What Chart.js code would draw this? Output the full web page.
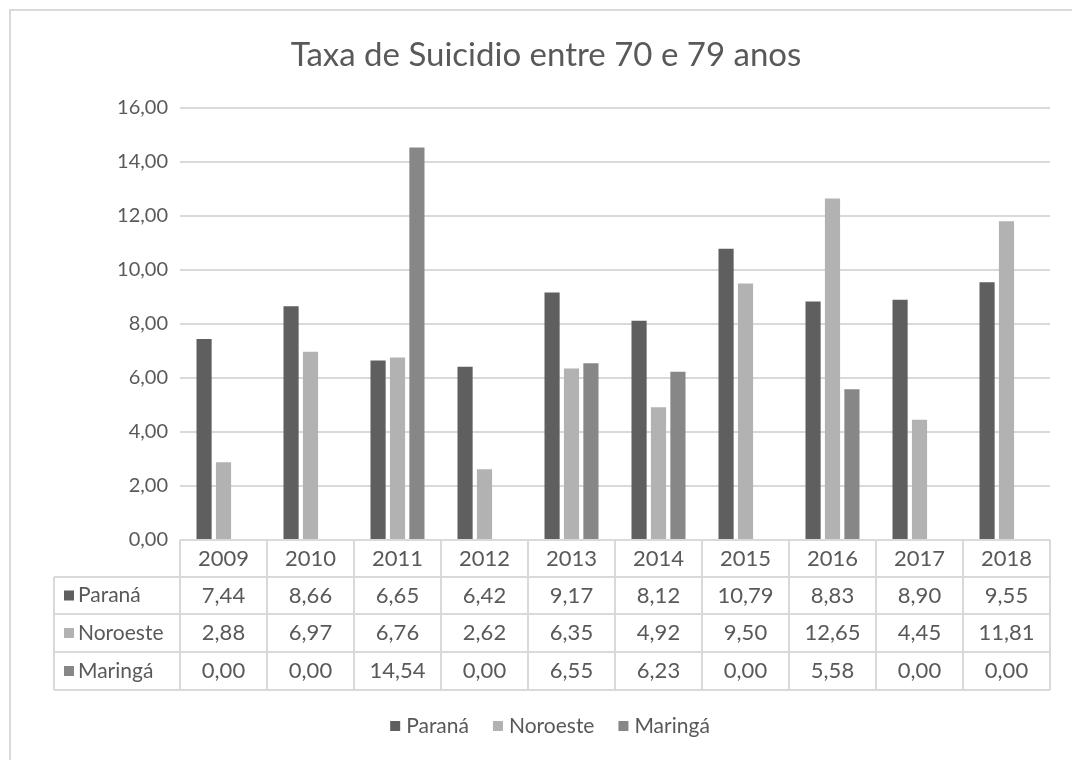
<!DOCTYPE html>
<html>
<head>
<meta charset="utf-8">
<script src="https://cdn.jsdelivr.net/npm/chart.js@4/dist/chart.umd.min.js"></script>
<style>
  html, body { margin: 0; padding: 0; background: #fff; }
  #wrap { width: 1072px; height: 760px; }
</style>
</head>
<body>
<div id="wrap"><canvas id="chart" width="1072" height="760"></canvas></div>
<script>
const years = ['2009', '2010', '2011', '2012', '2013', '2014', '2015', '2016', '2017', '2018'];
const parana = [7.44, 8.66, 6.65, 6.42, 9.17, 8.12, 10.79, 8.83, 8.90, 9.55];
const noroeste = [2.88, 6.97, 6.76, 2.62, 6.35, 4.92, 9.50, 12.65, 4.45, 11.81];
const maringa = [0.00, 0.00, 14.54, 0.00, 6.55, 6.23, 0.00, 5.58, 0.00, 0.00];
const seriesNames = ['Paraná', 'Noroeste', 'Maringá'];
const seriesColors = ['#5f5f5f', '#b2b2b2', '#878787'];
const chartTitle = 'Taxa de Suicidio entre 70 e 79 anos';

const FONT = 'Lato, "Open Sans", sans-serif';
const TEXT = '#595959';
const LINE = '#d9d9d9';

const fmt = v => v.toFixed(2).replace('.', ',');

// titulo, tabela de dados, legenda e moldura
const excelBits = {
  id: 'excelBits',
  afterDraw(chart) {
    const ctx = chart.ctx;
    const x = chart.scales.x;
    const area = chart.chartArea;
    const step = (area.right - area.left) / years.length;
    const rows = [area.bottom, 577, 614, 652, 690];
    const labelLeft = 54;

    ctx.save();
    // moldura
    ctx.strokeStyle = LINE;
    ctx.lineWidth = 2;
    ctx.strokeRect(10, 10, 1100, 800);

    // titulo
    ctx.fillStyle = TEXT;
    ctx.font = '33px ' + FONT;
    ctx.textAlign = 'center';
    ctx.textBaseline = 'middle';
    ctx.fillText(chartTitle, 546, 55);

    // linhas da tabela
    ctx.strokeStyle = LINE;
    ctx.lineWidth = 2;
    ctx.beginPath();
    ctx.moveTo(area.left, rows[0]); ctx.lineTo(area.right, rows[0]);
    for (let r = 1; r < rows.length; r++) {
      ctx.moveTo(labelLeft, rows[r]); ctx.lineTo(area.right, rows[r]);
    }
    ctx.moveTo(labelLeft, rows[1]); ctx.lineTo(labelLeft, rows[4]);
    for (let i = 0; i <= years.length; i++) {
      const cx = Math.round(area.left + i * step);
      ctx.moveTo(cx, rows[0]); ctx.lineTo(cx, rows[4]);
    }
    ctx.stroke();

    // textos da tabela
    ctx.font = '22px ' + FONT;
    ctx.fillStyle = TEXT;
    ctx.textAlign = 'center';
    years.forEach((y, i) => {
      const cx = x.getPixelForValue(i);
      ctx.fillText(y, cx, (rows[0] + rows[1]) / 2);
      chart.data.datasets.forEach((ds, d) => {
        ctx.fillText(fmt(ds.data[i]), cx, (rows[d + 1] + rows[d + 2]) / 2);
      });
    });
    ctx.textAlign = 'left';
    ctx.font = '21px ' + FONT;
    chart.data.datasets.forEach((ds, d) => {
      const cy = (rows[d + 1] + rows[d + 2]) / 2;
      ctx.fillStyle = ds.backgroundColor;
      ctx.fillRect(labelLeft + 10, cy - 5, 10, 10);
      ctx.fillStyle = TEXT;
      ctx.fillText(ds.label, labelLeft + 24, cy);
    });

    // legenda
    ctx.font = '21px ' + FONT;
    const gap = 24;
    const widths = chart.data.datasets.map(ds => 16 + ctx.measureText(ds.label).width);
    const total = widths.reduce((a, b) => a + b, 0) + gap * (widths.length - 1);
    let lx = 550 - total / 2;
    const ly = 726;
    chart.data.datasets.forEach((ds, d) => {
      ctx.fillStyle = ds.backgroundColor;
      ctx.fillRect(lx, ly - 5, 10, 10);
      ctx.fillStyle = TEXT;
      ctx.fillText(ds.label, lx + 16, ly);
      lx += widths[d] + gap;
    });
    ctx.restore();
  }
};

new Chart(document.getElementById('chart'), {
  type: 'bar',
  data: {
    labels: years,
    datasets: [
      { label: seriesNames[0], data: parana, backgroundColor: seriesColors[0] },
      { label: seriesNames[1], data: noroeste, backgroundColor: seriesColors[1] },
      { label: seriesNames[2], data: maringa, backgroundColor: seriesColors[2] }
    ]
  },
  options: {
    responsive: false,
    animation: false,
    layout: { padding: { top: 108, right: 22, bottom: 220, left: 0 } },
    datasets: { bar: { categoryPercentage: 0.67, barPercentage: 0.78 } },
    plugins: {
      legend: { display: false },
      title: { display: false },
      tooltip: { enabled: false }
    },
    scales: {
      x: { display: false },
      y: {
        min: 0,
        max: 16,
        ticks: {
          stepSize: 2,
          padding: 12,
          color: TEXT,
          font: { family: FONT, size: 20 },
          callback: v => fmt(v)
        },
        grid: { color: LINE, lineWidth: 2, drawTicks: false },
        border: { display: false },
        afterFit: s => { s.width = 180; }
      }
    }
  },
  plugins: [excelBits]
});
</script>
</body>
</html>
